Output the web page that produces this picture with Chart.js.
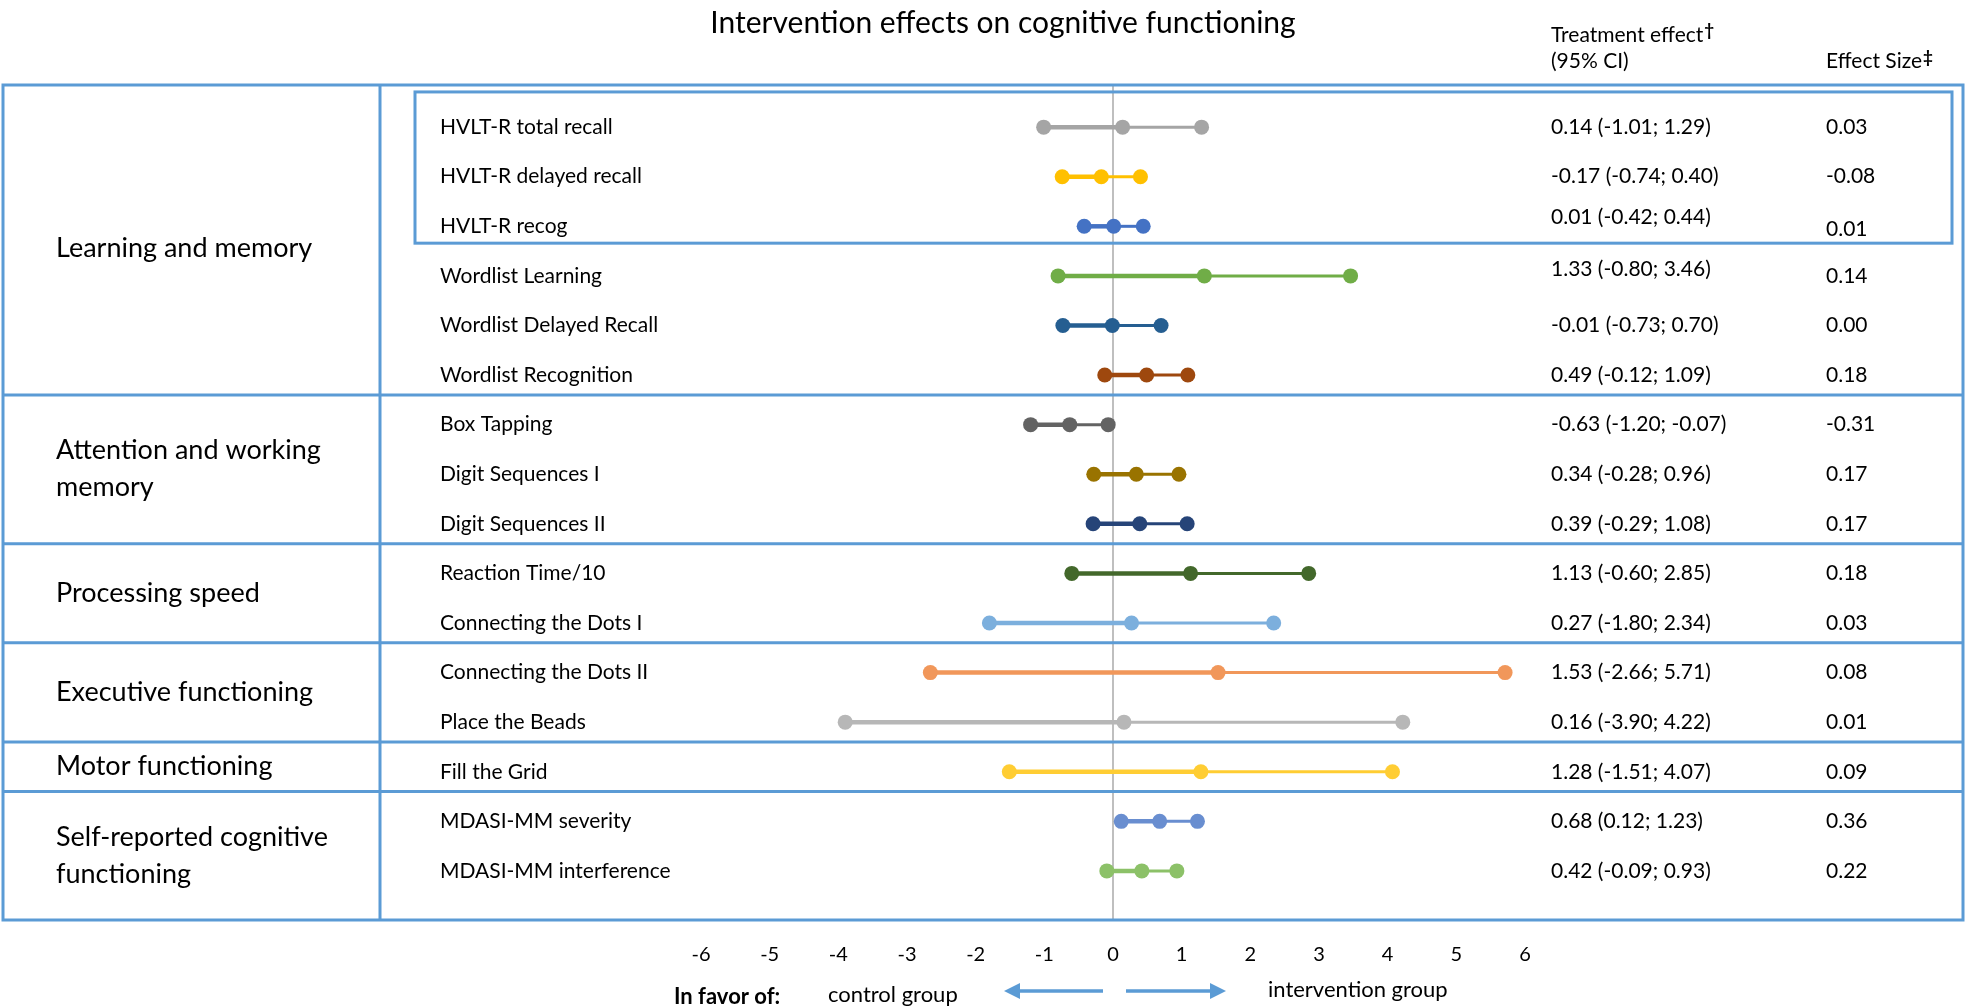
<!DOCTYPE html>
<html>
<head>
<meta charset="utf-8">
<title>Intervention effects on cognitive functioning</title>
<script src="https://cdn.jsdelivr.net/npm/chart.js@4.4.0/dist/chart.umd.min.js"></script>
<style>
  html, body { margin: 0; padding: 0; background: #fff; }
  #wrap { width: 1968px; height: 1008px; }
</style>
</head>
<body>
<div id="wrap"><canvas id="forestChart" width="1968" height="1008"></canvas></div>
<script>
// Outcome measures, one row each (top to bottom)
const measures = [
  "HVLT-R total recall", "HVLT-R delayed recall", "HVLT-R recog",
  "Wordlist Learning", "Wordlist Delayed Recall", "Wordlist Recognition",
  "Box Tapping", "Digit Sequences I", "Digit Sequences II",
  "Reaction Time/10", "Connecting the Dots I",
  "Connecting the Dots II", "Place the Beads",
  "Fill the Grid",
  "MDASI-MM severity", "MDASI-MM interference",
];
const estimate = [0.14, -0.17, 0.01, 1.33, -0.01, 0.49, -0.63, 0.34, 0.39, 1.13, 0.27, 1.53, 0.16, 1.28, 0.68, 0.42];
const lower = [-1.01, -0.74, -0.42, -0.80, -0.73, -0.12, -1.20, -0.28, -0.29, -0.60, -1.80, -2.66, -3.90, -1.51, 0.12, -0.09];
const upper = [1.29, 0.40, 0.44, 3.46, 0.70, 1.09, -0.07, 0.96, 1.08, 2.85, 2.34, 5.71, 4.22, 4.07, 1.23, 0.93];
const effectSize = [0.03, -0.08, 0.01, 0.14, 0.00, 0.18, -0.31, 0.17, 0.17, 0.18, 0.03, 0.08, 0.01, 0.09, 0.36, 0.22];

// Domains and the first/last row they cover
const domains = [
  ["Learning and memory"],
  ["Attention and working", "memory"],
  ["Processing speed"],
  ["Executive functioning"],
  ["Motor functioning"],
  ["Self-reported cognitive", "functioning"],
];
const domainRows = [[0, 5], [6, 8], [9, 10], [11, 12], [13, 13], [14, 15]];

const xTicks = [-6, -5, -4, -3, -2, -1, 0, 1, 2, 3, 4, 5, 6];

// Excel-ish series palette
const seriesColors = [
  "#A5A5A5", "#FFC000", "#4472C4", "#70AD47", "#255E91", "#9E480E",
  "#636363", "#997300", "#264478", "#43682B", "#7CAFDD", "#F1975A",
  "#B7B7B7", "#FFCD33", "#698ED0", "#8CC168",
];

const FONT = "Lato, 'Open Sans', sans-serif";
const FRAME = "#5B9BD5";
const W = 1968, H = 1008;
const TOP = 85, BOTTOM = 920;

Chart.defaults.font.family = FONT;
Chart.defaults.color = "#000";

const fmt = v => v.toFixed(2);

function text(ctx, str, x, y, size, opts = {}) {
  ctx.save();
  ctx.font = (opts.bold ? "bold " : "") + size + "px " + FONT;
  ctx.fillStyle = "#000";
  ctx.textAlign = opts.align || "left";
  ctx.textBaseline = "middle";
  ctx.fillText(str, x, y);
  const w = ctx.measureText(str).width;
  ctx.restore();
  return w;
}

function arrow(ctx, x0, x1, y) {
  const dir = Math.sign(x1 - x0);
  ctx.save();
  ctx.strokeStyle = FRAME;
  ctx.fillStyle = FRAME;
  ctx.lineWidth = 3.5;
  ctx.beginPath();
  ctx.moveTo(x0, y);
  ctx.lineTo(x1 - dir * 12, y);
  ctx.stroke();
  ctx.beginPath();
  ctx.moveTo(x1, y);
  ctx.lineTo(x1 - dir * 16, y - 8);
  ctx.lineTo(x1 - dir * 16, y + 8);
  ctx.closePath();
  ctx.fill();
  ctx.restore();
}

const tableDecor = {
  id: "tableDecor",
  beforeDatasetsDraw(chart) {
    const { ctx } = chart;
    const ys = chart.scales.y;
    ctx.save();
    ctx.strokeStyle = FRAME;
    ctx.lineWidth = 3;
    // outer frame + domain column divider
    ctx.strokeRect(3, TOP, 1960, BOTTOM - TOP);
    ctx.beginPath();
    ctx.moveTo(380, TOP);
    ctx.lineTo(380, BOTTOM);
    // separators between domains
    domainRows.slice(0, -1).forEach(([, last]) => {
      const y = ys.getPixelForValue(last + 0.4);
      ctx.moveTo(3, y);
      ctx.lineTo(1963, y);
    });
    ctx.stroke();
    // HVLT-R box
    const bTop = ys.getPixelForValue(-0.71);
    const bBot = ys.getPixelForValue(2.34);
    ctx.strokeRect(415, bTop, 1952 - 415, bBot - bTop);
    ctx.restore();
  },
  afterDraw(chart) {
    const { ctx } = chart;
    const ys = chart.scales.y;

    text(ctx, "Intervention effects on cognitive functioning", 1003, 23, 30, { align: "center" });
    const tw = text(ctx, "Treatment effect", 1551, 35, 21);
    text(ctx, "\u2020", 1551 + tw + 1, 31, 17, { bold: true });
    text(ctx, "(95% CI)", 1551, 61, 21);
    const ew = text(ctx, "Effect Size", 1826, 61, 21);
    text(ctx, "\u2021", 1826 + ew + 1, 58, 17, { bold: true });

    const ciNudge = { 2: -9, 3: -7 };
    measures.forEach((m, i) => {
      const y = ys.getPixelForValue(i);
      text(ctx, m, 440, y, 21);
      const ci = fmt(estimate[i]) + " (" + fmt(lower[i]) + "; " + fmt(upper[i]) + ")";
      text(ctx, ci, 1551, y + (ciNudge[i] || 0), 21);
      text(ctx, fmt(effectSize[i]), 1826, y + (i === 2 ? 3 : 0), 21);
    });

    domains.forEach((lines, d) => {
      const [, last] = domainRows[d];
      const yTop = d === 0 ? TOP : ys.getPixelForValue(domainRows[d - 1][1] + 0.4);
      const yBot = d === domains.length - 1 ? BOTTOM : ys.getPixelForValue(last + 0.4);
      const mid = (yTop + yBot) / 2 + (d === 0 ? 8 : 0);
      const lh = 37;
      lines.forEach((ln, k) => {
        text(ctx, ln, 56, mid + (k - (lines.length - 1) / 2) * lh, 27);
      });
    });

    // direction legend
    text(ctx, "In favor of:", 674, 997, 22, { bold: true });
    text(ctx, "control group", 828, 995, 22);
    arrow(ctx, 1103, 1004, 991);
    arrow(ctx, 1126, 1226, 991);
    text(ctx, "intervention group", 1268, 990, 22);
  },
};

const datasets = measures.map((m, i) => ({
  label: m,
  data: [
    { x: lower[i], y: i },
    { x: estimate[i], y: i },
    { x: upper[i], y: i },
  ],
  showLine: true,
  borderColor: seriesColors[i],
  backgroundColor: seriesColors[i],
  pointRadius: 7.5,
  pointBorderWidth: 0,
  pointHoverRadius: 7.5,
  segment: {
    borderWidth: ctx => (ctx.p0DataIndex === 0 ? 4.5 : 3),
  },
  clip: false,
}));

new Chart(document.getElementById("forestChart"), {
  type: "scatter",
  data: { datasets },
  options: {
    responsive: false,
    animation: false,
    layout: { padding: { left: 701, right: W - 1525, top: TOP, bottom: 0 } },
    plugins: {
      legend: { display: false },
      tooltip: { enabled: false },
    },
    scales: {
      x: {
        type: "linear",
        min: -6,
        max: 6,
        afterBuildTicks: s => { s.ticks = xTicks.map(v => ({ value: v })); },
        afterFit: s => { s.height = H - BOTTOM; },
        ticks: {
          font: { size: 20 },
          color: "#000",
          padding: 23,
          autoSkip: false,
          maxRotation: 0,
        },
        grid: {
          drawTicks: false,
          lineWidth: 2,
          color: c => (c.tick && c.tick.value === 0 ? "#BFBFBF" : "rgba(0,0,0,0)"),
        },
        border: { display: false },
      },
      y: {
        type: "linear",
        reverse: true,
        min: -0.85,
        max: 15.99,
        display: false,
      },
    },
  },
  plugins: [tableDecor],
});
</script>
</body>
</html>
